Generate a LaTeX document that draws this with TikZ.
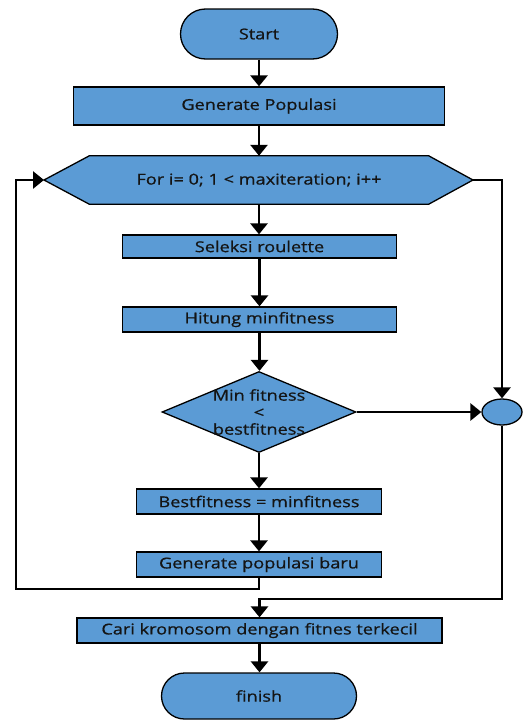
\documentclass[tikz,border=0pt]{standalone}
\usepackage{fontspec}
\setmainfont{Open Sans}[FakeStretch=1.21, FakeBold=0.7]
\usetikzlibrary{arrows.meta,shapes.geometric,backgrounds}
\definecolor{boxblue}{HTML}{5B9BD5}
\definecolor{txtc}{HTML}{141414}
\begin{document}
\begin{tikzpicture}[x=1pt,y=-1pt,
  box/.style={draw=black, line width=1.3pt, fill=boxblue, inner sep=0pt, text=txtc,
    font=\fontsize{15}{17}\selectfont},
  plain/.style={inner sep=0pt, text=txtc, font=\fontsize{15}{17}\selectfont, align=center},
  arr/.style={line width=2.8pt, -{Triangle[length=11pt,width=17pt]}}]
\useasboundingbox (0,0) rectangle (526,720);

\node[box, rounded corners=25pt, minimum width=157pt, minimum height=50pt] (start) at (259,34) {Start};
\node[box, minimum width=371pt, minimum height=38pt] (genpop) at (259,106) {Generate Populasi};
\node[plain, minimum width=339pt, minimum height=48pt] (for) at (259,180) {For i= 0; 1 < maxiteration; i++};
\coordinate (forL) at (44,180);
\coordinate (forR) at (473,180);
\begin{scope}[on background layer]
  \draw[box] (for.north west) -- (for.north east) -- (forR) -- (for.south east)
    -- (for.south west) -- (forL) -- cycle;
\end{scope}
\node[box, minimum width=274pt, minimum height=23pt] (sel) at (259.5,246.5) {Seleksi roulette};
\node[box, minimum width=274pt, minimum height=25pt] (hit) at (259.5,319.5) {Hitung minfitness};
\node[box, diamond, minimum width=194pt, minimum height=81pt] (dia) at (259,412) {};
\node[plain] (diatext) at (259,412) {Min fitness\\<\\bestfitness};
\node[box, ellipse, minimum width=40pt, minimum height=26pt] (circ) at (502,412) {};
\node[box, minimum width=245pt, minimum height=25pt] (best) at (259,501.5) {Bestfitness = minfitness};
\node[box, minimum width=245pt, minimum height=25pt] (newpop) at (259,564.5) {Generate populasi baru};
\node[box, minimum width=365pt, minimum height=25pt] (cari) at (259.5,630.5) {Cari kromosom dengan fitnes terkecil};
\node[box, rounded corners=23pt, minimum width=195pt, minimum height=46pt] (finish) at (259,696) {finish};

\coordinate (lb) at (16,589);
\coordinate (rb) at (502,599);

\draw[arr] (start.south) -- (start.south |- genpop.north);
\draw[arr] (genpop.south) -- (genpop.south |- for.north);
\draw[arr] (for.south) -- (for.south |- sel.north);
\draw[arr] (sel.south) -- (sel.south |- hit.north);
\draw[arr] (hit.south) -- (hit.south |- dia.north);
\draw[arr] (dia.south) -- (dia.south |- best.north);
\draw[arr] (best.south) -- (best.south |- newpop.north);
\draw[arr] (dia.east) -- (circ.west);
\draw[arr] (forR) -- (forR -| circ.north) -- (circ.north);
\draw[arr] (newpop.south) -- (newpop.south |- lb) -- (lb) -- (lb |- forL) -- (forL);
\draw[arr] (circ.south) -- (circ.south |- rb) -- (rb -| cari.north) -- (cari.north);
\draw[arr] (cari.south) -- (cari.south |- finish.north);
\end{tikzpicture}
\end{document}
